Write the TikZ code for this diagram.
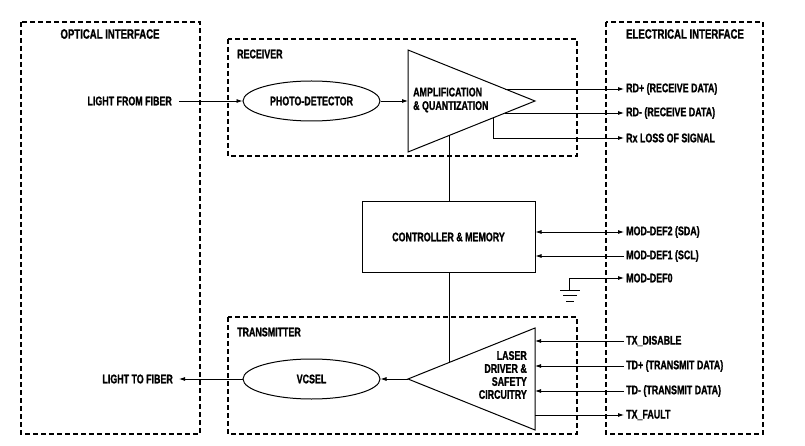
\documentclass[tikz,border=0pt]{standalone}
\usepackage{fontspec}
\usetikzlibrary{arrows.meta,shapes.geometric,calc}
\newfontfamily\labfont[FakeStretch=0.71,FakeBold=1.2]{Liberation Sans Bold}
\begin{document}
\begin{tikzpicture}[x=1pt,y=-1pt,
  every node/.style={font=\labfont\fontsize{12.5}{13}\selectfont, text=black},
  region/.style={draw, line width=1.4pt, dash pattern=on 5pt off 3pt},
  conn/.style={draw, line width=0.8pt},
  arr/.style={conn, -{Latex[length=6pt,width=4pt]}},
  darr/.style={conn, {Latex[length=6pt,width=4pt]}-{Latex[length=6pt,width=4pt]}},
  oval/.style={draw, ellipse, line width=1pt, minimum width=137pt, minimum height=40pt, inner sep=0pt},
  blk/.style={draw, line width=1pt, minimum width=173pt, minimum height=70pt},
  sig/.style={anchor=west, inner sep=2pt},
  tri/.style={draw, line width=1pt},
  title/.style={font=\labfont\fontsize{13.5}{14}\selectfont}
]
\useasboundingbox (0,0) rectangle (805,446);
\fill[white] (0,0) rectangle (805,446);

% regions
\draw[region] (21,22) rectangle (200,434);
\draw[region] (228,39) rectangle (577,156);
\draw[region] (606,22) rectangle (763,434);
\draw[region] (228,317) rectangle (577,434);

\node[title] (optt) at (110,34) {OPTICAL INTERFACE};
\node[title] (elet) at (685,34) {ELECTRICAL INTERFACE};
\node[anchor=west, inner sep=0pt] (rxt) at (237,54) {RECEIVER};
\node[anchor=west, inner sep=0pt] (txt) at (237,332) {TRANSMITTER};

% amplifier triangle
\coordinate (at) at (408,50);
\coordinate (ab) at (408,152);
\coordinate (aa) at (535,101);
\draw[tri] (at) -- (aa) -- (ab) -- cycle;
\node[anchor=west, align=left, inner sep=0pt, font=\labfont\fontsize{12.5}{13.5}\selectfont] (amp) at (413,100) {AMPLIFICATION\\\& QUANTIZATION};

% laser driver triangle
\coordinate (lt) at (535,328);
\coordinate (lb) at (535,430);
\coordinate (la) at (408,379);
\draw[tri] (lt) -- (la) -- (lb) -- cycle;
\node[anchor=east, align=right, inner sep=0pt, font=\labfont\fontsize{12.5}{13}\selectfont] (ldr) at (527,375) {LASER\\DRIVER \&\\SAFETY\\CIRCUITRY};

% ellipses and block
\node[oval] (pd) at (311.5,101) {PHOTO-DETECTOR};
\node[oval] (vc) at (311.5,379) {VCSEL};
\node[blk] (cm) at (448.5,237) {CONTROLLER \& MEMORY};

% left labels
\node[anchor=east, inner sep=0pt] (lff) at (172,101) {LIGHT FROM FIBER};
\node[anchor=east, inner sep=0pt] (ltf) at (173,379) {LIGHT TO FIBER};
\coordinate (lffe) at (179,101);
\coordinate (ltfe) at (179,379);
\draw[arr] (lffe) -- (pd.west);
\draw[arr] (pd.east) -- (408,101);
\draw[arr] (la) -- (vc.east);
\draw[arr] (vc.west) -- (ltfe);

% right labels
\node[sig] (rdp) at (624,89) {RD+ (RECEIVE DATA)};
\node[sig] (rdm) at (624,113) {RD- (RECEIVE DATA)};
\node[sig] (los) at (624,138) {Rx LOSS OF SIGNAL};
\node[sig] (md2) at (624,232) {MOD-DEF2 (SDA)};
\node[sig] (md1) at (624,256) {MOD-DEF1 (SCL)};
\node[sig] (md0) at (624,278) {MOD-DEF0};
\node[sig] (txd) at (624,341) {TX\_DISABLE};
\node[sig] (tdp) at (624,366) {TD+ (TRANSMIT DATA)};
\node[sig] (tdm) at (624,391) {TD- (TRANSMIT DATA)};
\node[sig] (txf) at (624,415) {TX\_FAULT};

% receiver outputs
\coordinate (rdps) at (505,89);
\coordinate (rdms) at (505,113);
\coordinate (loss) at (493,118.1);
\draw[arr] (rdps) -- (rdp.west);
\draw[arr] (rdms) -- (rdm.west);
\draw[arr] (loss) |- (los.west);

% controller links
\coordinate (ampb) at (449,135.5);
\coordinate (ldt) at (449,362.5);
\draw[conn] (ampb) -- (cm.north -| ampb);
\draw[conn] (cm.south -| ldt) -- (ldt);
\draw[darr] (cm.east |- md2.west) -- (md2.west);
\draw[arr] (md1.west) -- (cm.east |- md1.west);

% ground
\coordinate (gnd) at (569,290.5);
\draw[arr] (gnd) |- (md0.west);
\draw[conn] (560,290.5) -- (580,290.5);
\draw[conn] (563,295.7) -- (577,295.7);
\draw[conn] (566,301) -- (574,301);

% transmitter inputs
\draw[arr] (txd.west) -- (lt |- txd.west);
\draw[arr] (tdp.west) -- (lt |- tdp.west);
\draw[arr] (tdm.west) -- (lt |- tdm.west);
\draw[arr] (lt |- txf.west) -- (txf.west);
\end{tikzpicture}
\end{document}
